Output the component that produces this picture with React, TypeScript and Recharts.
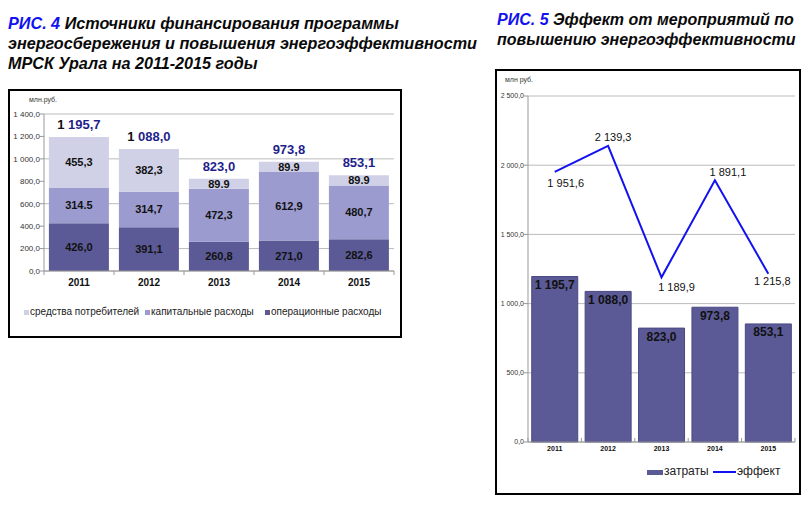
import React from 'react'
import {
  Bar, BarChart, CartesianGrid, ComposedChart, LabelList, Line, XAxis, YAxis,
} from 'recharts'

const years = ['2011', '2012', '2013', '2014', '2015']

// рис. 4 — источники финансирования, млн руб.
const operational = [426.0, 391.1, 260.8, 271.0, 282.6]
const capital = [314.5, 314.7, 472.3, 612.9, 480.7]
const consumers = [455.3, 382.3, 89.9, 89.9, 89.9]
const totals = [1195.7, 1088.0, 823.0, 973.8, 853.1]
const opLabels = ['426,0', '391,1', '260,8', '271,0', '282,6']
const capLabels = ['314.5', '314,7', '472,3', '612,9', '480,7']
const conLabels = ['455,3', '382,3', '89.9', '89.9', '89.9']
const leftTicks = [0, 200, 400, 600, 800, 1000, 1200, 1400]

// рис. 5 — затраты и эффект, млн руб.
const costs = [1195.7, 1088.0, 823.0, 973.8, 853.1]
const effect = [1951.6, 2139.3, 1189.9, 1891.1, 1215.8]
const rightTicks = [0, 500, 1000, 1500, 2000, 2500]

const DARK = '#5b5a96'
const MID = '#9c9bd0'
const LIGHT = '#d0d0e6'
const NAVY = '#1f1f8c'
const BLUE = '#1212f0'
const FONT = '"Liberation Sans", Arial, sans-serif'
const NBSP = '\u00a0'

// 1195.7 -> "1 195,7" (неразрывный пробел, чтобы Recharts не переносил)
const fmt = (v: number) => {
  const [i, d] = v.toFixed(1).split('.')
  return i.replace(/\B(?=(\d{3})+(?!\d))/g, NBSP) + ',' + d
}

const leftData = years.map((y, i) => ({
  year: y,
  op: operational[i],
  cap: capital[i],
  con: consumers[i],
  total: totals[i],
  opLabel: opLabels[i],
  capLabel: capLabels[i],
  conLabel: conLabels[i],
}))

const rightData = years.map((y, i) => ({ year: y, costs: costs[i], effect: effect[i] }))

// offsets of line labels from points
const effDx = [11, 5, 15, 13, 4]
const effDy = [11, -9, 10, -8, 7]

const TotalLabel = (props: any) => {
  const x = Number(props.x), y = Number(props.y), w = Number(props.width)
  const s = fmt(Number(props.value))
  const sp = s.lastIndexOf(NBSP)
  const head = sp >= 0 ? s.slice(0, sp + 1) : ''
  const tail = sp >= 0 ? s.slice(sp + 1) : s
  return (
    <text x={x + w / 2} y={y - 13} textAnchor='middle' dominantBaseline='central'
      fontSize={13} fontWeight='bold' fontFamily={FONT}>
      {head ? <tspan fill='#111'>{head}</tspan> : null}
      <tspan fill={NAVY}>{tail}</tspan>
    </text>
  )
}

const EffectLabel = (props: any) => {
  const i = props.index
  return (
    <text x={Number(props.x) + effDx[i]} y={Number(props.y) + effDy[i]} textAnchor='middle'
      dominantBaseline='central' fontSize={11} fill='#111' fontFamily={FONT}>
      {fmt(Number(props.value))}
    </text>
  )
}

// подпись года + засечки на границах категорий
const YearTick = (props: any) => {
  const { x, y, payload, index, band, size, last } = props
  return (
    <g>
      <line x1={x - band / 2} y1={y - 8} x2={x - band / 2} y2={y - 4} stroke='#999' />
      {index === last ? <line x1={x + band / 2} y1={y - 8} x2={x + band / 2} y2={y - 4} stroke='#999' /> : null}
      <text x={x} y={y} dy='0.71em' textAnchor='middle' fontSize={size} fontWeight='bold' fill='#111'>
        {payload.value}
      </text>
    </g>
  )
}

const titleStyle: React.CSSProperties = {
  position: 'absolute', fontFamily: FONT, fontWeight: 'bold', fontStyle: 'italic',
  fontSize: 16.2, lineHeight: '20px', color: '#0a0a0a', whiteSpace: 'nowrap',
}

const legendText: React.CSSProperties = {
  position: 'absolute', fontFamily: FONT, whiteSpace: 'nowrap', color: '#222',
}

export default function App() {
  return (
    <div style={{ position: 'relative', width: 811, height: 515, margin: -8, background: '#fff', fontFamily: FONT }}>
      <div style={{ ...titleStyle, left: 8, top: 13 }}>
        <span style={{ color: BLUE }}>РИС. 4</span> Источники финансирования программы<br />
        энергосбережения и повышения энергоэффективности<br />
        МРСК Урала на 2011-2015 годы
      </div>
      <div style={{ ...titleStyle, left: 497, top: 10, fontSize: 16 }}>
        <span style={{ color: BLUE }}>РИС. 5</span> Эффект от мероприятий по<br />
        повышению энергоэффективности
      </div>

      {/* левый блок */}
      <div style={{ position: 'absolute', left: 8, top: 89, width: 390, height: 245, border: '2px solid #000' }} />
      <div style={{ position: 'absolute', left: 29, top: 96, fontSize: 7, color: '#333' }}>млн.руб.</div>
      <div style={{ position: 'absolute', left: 9, top: 90 }}>
        <BarChart width={392} height={205} data={leftData} barCategoryGap='7%'
          margin={{ top: 24, right: 7, bottom: 0, left: 0 }}>
          <CartesianGrid vertical={false} stroke='#bbb' />
          <XAxis dataKey='year' height={24} tickLine={false} axisLine={{ stroke: '#999' }}
            tick={(p: any) => <YearTick {...p} band={70} size={10} last={4} />} />
          <YAxis width={35} domain={[0, 1400]} ticks={leftTicks} tickFormatter={fmt}
            tickSize={4} tickMargin={0} axisLine={{ stroke: '#999' }} tickLine={{ stroke: '#999' }}
            tick={{ fontSize: 8, fill: '#333' }} />
          <Bar dataKey='op' stackId='a' fill={DARK} isAnimationActive={false}>
            <LabelList dataKey='opLabel' position='center' fill='#111' fontSize={11} fontWeight='bold' />
          </Bar>
          <Bar dataKey='cap' stackId='a' fill={MID} isAnimationActive={false}>
            <LabelList dataKey='capLabel' position='center' fill='#111' fontSize={11} fontWeight='bold' />
          </Bar>
          <Bar dataKey='con' stackId='a' fill={LIGHT} isAnimationActive={false}>
            <LabelList dataKey='conLabel' position='center' fill='#111' fontSize={11} fontWeight='bold' />
            <LabelList dataKey='total' content={TotalLabel} />
          </Bar>
        </BarChart>
      </div>
      <div style={{ position: 'absolute', left: 24, top: 310, width: 5, height: 5, background: LIGHT }} />
      <div style={{ ...legendText, left: 30, top: 306, fontSize: 10 }}>средства потребителей</div>
      <div style={{ position: 'absolute', left: 145, top: 310, width: 5, height: 5, background: MID }} />
      <div style={{ ...legendText, left: 151, top: 306, fontSize: 10 }}>капитальные расходы</div>
      <div style={{ position: 'absolute', left: 265, top: 310, width: 5, height: 5, background: DARK }} />
      <div style={{ ...legendText, left: 271, top: 306, fontSize: 10 }}>операционные расходы</div>

      {/* правый блок */}
      <div style={{ position: 'absolute', left: 495, top: 69, width: 302, height: 422, border: '2px solid #000' }} />
      <div style={{ position: 'absolute', left: 505, top: 76, fontSize: 7, color: '#333' }}>млн руб.</div>
      <div style={{ position: 'absolute', left: 497, top: 71 }}>
        <ComposedChart width={302} height={391} data={rightData} barCategoryGap='7%'
          margin={{ top: 25, right: 4, bottom: 0, left: 0 }}>
          <CartesianGrid vertical={false} stroke='#bbb' />
          <XAxis dataKey='year' height={20} tickLine={false} tickSize={4} tickMargin={0}
            axisLine={{ stroke: '#999' }}
            tick={(p: any) => <YearTick {...p} band={53.4} size={7} last={4} />} />
          <YAxis width={31} domain={[0, 2500]} ticks={rightTicks} tickFormatter={fmt}
            tickSize={4} tickMargin={0} axisLine={{ stroke: '#999' }} tickLine={{ stroke: '#999' }}
            tick={{ fontSize: 7, fill: '#333' }} />
          <Bar dataKey='costs' fill={DARK} stroke='#4a4982' strokeWidth={1} isAnimationActive={false}>
            <LabelList dataKey='costs' position='insideTop' offset={4} formatter={(v: any) => fmt(Number(v))}
              fill='#111' fontSize={12} fontWeight='bold' />
          </Bar>
          <Line dataKey='effect' stroke={BLUE} strokeWidth={2} dot={false} type='linear' isAnimationActive={false}>
            <LabelList dataKey='effect' content={EffectLabel} />
          </Line>
        </ComposedChart>
      </div>
      <div style={{ position: 'absolute', left: 647, top: 470, width: 16, height: 5, background: DARK }} />
      <div style={{ ...legendText, left: 664, top: 464, fontSize: 12 }}>затраты</div>
      <div style={{ position: 'absolute', left: 713, top: 471, width: 23, height: 2, background: BLUE }} />
      <div style={{ ...legendText, left: 737, top: 464, fontSize: 12 }}>эффект</div>
    </div>
  )
}
